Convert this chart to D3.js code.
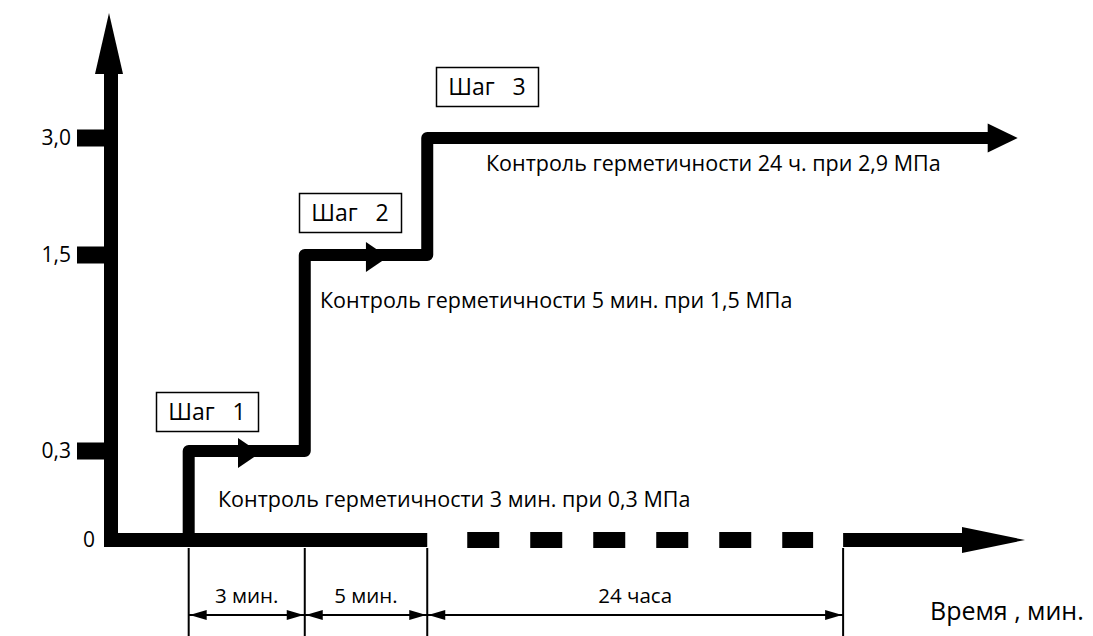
<!DOCTYPE html>
<html>
<head>
<meta charset="utf-8">
<script src="https://cdn.jsdelivr.net/npm/d3@7"></script>
<style>
  body { margin: 0; background: #fff; }
  text { font-family: "Open Sans", "Noto Sans", sans-serif; fill: #000; }
</style>
</head>
<body>
<div id="chart"></div>
<script>
// Pressure levels (MPa) shown on the vertical axis
const levelTicks = [0, 0.3, 1.5, 3.0];
const levelLabels = ["0", "0,3", "1,5", "3,0"];

// Schematic time positions (0..100 along the horizontal axis)
const stepNames = ["Шаг   1", "Шаг   2", "Шаг   3"];
const stepStart = [8.5, 21.2, 34.6];
const stepLevel = [0.3, 1.5, 3.0];
const stepNotes = [
    "Контроль герметичности 3 мин. при 0,3 МПа",
    "Контроль герметичности 5 мин. при 1,5 МПа",
    "Контроль герметичности 24 ч. при 2,9 МПа"
];
const stepArrowAt = [16.3, 30.3];
const lineEnd = 99.2;

const dimBounds = [8.5, 21.2, 34.6, 80.1];
const dimLabels = ["3 мин.", "5 мин.", "24 часа"];

const dashFrom = 34.6;
const dashTo = 80.1;

const size = { width: 1093, height: 636 };

function main() {
    const svg = d3.select("#chart")
        .append("svg")
        .attr("width", size.width)
        .attr("height", size.height);

    const x = d3.scaleLinear().domain([0, 100]).range([111, 1025]);
    const y = d3.scaleLinear().domain(levelTicks).range([540, 451, 255, 138]);

    const thick = 14;

    // filled triangle, tip at (tipX, tipY)
    function arrowHead(tipX, tipY, len, half, dir) {
        let pts;
        if (dir === "right") pts = [[tipX, tipY], [tipX - len, tipY - half], [tipX - len, tipY + half]];
        if (dir === "left") pts = [[tipX, tipY], [tipX + len, tipY - half], [tipX + len, tipY + half]];
        if (dir === "up") pts = [[tipX, tipY], [tipX - half, tipY + len], [tipX + half, tipY + len]];
        svg.append("path").attr("d", "M" + pts.join("L") + "Z").attr("fill", "#000");
    }

    // y axis
    const yTopPx = 13;
    svg.append("line")
        .attr("x1", x(0)).attr("x2", x(0))
        .attr("y1", yTopPx + 55).attr("y2", y(0) + thick / 2)
        .attr("stroke", "#000").attr("stroke-width", thick);
    arrowHead(x(0) - 2, yTopPx, 61, 14, "up");

    // tick stubs
    svg.selectAll(".tick-stub")
        .data(levelTicks.slice(1))
        .enter()
        .append("rect")
        .attr("x", 77)
        .attr("y", d => y(d) - 8.5)
        .attr("width", x(0) - 77)
        .attr("height", 17)
        .attr("fill", "#000");

    svg.selectAll(".tick-label")
        .data(levelTicks)
        .enter()
        .append("text")
        .attr("x", (d, i) => i === 0 ? 95 : 71)
        .attr("y", d => y(d) + 7)
        .attr("text-anchor", "end")
        .style("font-size", "21px")
        .text((d, i) => levelLabels[i]);

    // time axis: solid, dashed, solid + arrow
    svg.append("line")
        .attr("x1", x(0) - thick / 2).attr("x2", x(dashFrom))
        .attr("y1", y(0)).attr("y2", y(0))
        .attr("stroke", "#000").attr("stroke-width", thick);
    svg.append("line")
        .attr("x1", x(dashFrom) + 40).attr("x2", x(dashTo) - 30)
        .attr("y1", y(0)).attr("y2", y(0))
        .attr("stroke", "#000").attr("stroke-width", 16)
        .attr("stroke-dasharray", "32 31");
    svg.append("line")
        .attr("x1", x(dashTo)).attr("x2", x(100) - 60)
        .attr("y1", y(0)).attr("y2", y(0))
        .attr("stroke", "#000").attr("stroke-width", thick);
    arrowHead(x(100), y(0), 63, 13, "right");

    // pressure step line
    let d = "M" + x(stepStart[0]) + "," + (y(0) - 2);
    stepStart.forEach((s, i) => {
        d += "V" + y(stepLevel[i]);
        d += "H" + (i + 1 < stepStart.length ? x(stepStart[i + 1]) : x(lineEnd) - 28);
    });
    svg.append("path")
        .attr("d", d)
        .attr("fill", "none")
        .attr("stroke", "#000")
        .attr("stroke-width", 12)
        .attr("stroke-linejoin", "round");
    stepArrowAt.forEach((a, i) => arrowHead(x(a), y(stepLevel[i]) + 2, 22, 15, "right"));
    arrowHead(x(lineEnd), y(stepLevel[2]), 30, 14.5, "right");

    // step boxes
    const boxes = [[156, 392], [299, 193], [436, 67]];
    stepNames.forEach((name, i) => {
        const g = svg.append("g").attr("transform", `translate(${boxes[i][0]},${boxes[i][1]})`);
        g.append("rect")
            .attr("x", 0.5).attr("y", 0.5)
            .attr("width", 102).attr("height", 39)
            .attr("fill", "#fff").attr("stroke", "#000").attr("stroke-width", 1.5);
        g.append("text")
            .attr("x", 51).attr("y", 28)
            .attr("text-anchor", "middle")
            .attr("xml:space", "preserve")
            .style("white-space", "pre")
            .style("font-size", "23px")
            .text(name);
    });

    // notes
    const notePos = [[218, 507], [320, 308], [486, 171]];
    stepNotes.forEach((t, i) => {
        svg.append("text")
            .attr("x", notePos[i][0]).attr("y", notePos[i][1])
            .style("font-size", "21.5px")
            .text(t);
    });

    // dimension lines
    svg.selectAll(".ext")
        .data(dimBounds)
        .enter()
        .append("line")
        .attr("x1", v => x(v)).attr("x2", v => x(v))
        .attr("y1", y(0) + 8).attr("y2", size.height)
        .attr("stroke", "#000").attr("stroke-width", 2);

    const dimY = 615;
    dimLabels.forEach((lab, i) => {
        const a = x(dimBounds[i]), b = x(dimBounds[i + 1]);
        svg.append("line")
            .attr("x1", a).attr("x2", b)
            .attr("y1", dimY).attr("y2", dimY)
            .attr("stroke", "#000").attr("stroke-width", 2);
        arrowHead(a + 1, dimY, 17, 5, "left");
        arrowHead(b - 1, dimY, 17, 5, "right");
        svg.append("text")
            .attr("x", (a + b) / 2).attr("y", dimY - 12)
            .attr("text-anchor", "middle")
            .style("font-size", "20.5px")
            .text(lab);
    });

    svg.append("text")
        .attr("x", 930).attr("y", 620)
        .attr("xml:space", "preserve")
        .style("white-space", "pre")
        .style("font-size", "25px")
        .text("Время , мин.");
}

main();
</script>
</body>
</html>
